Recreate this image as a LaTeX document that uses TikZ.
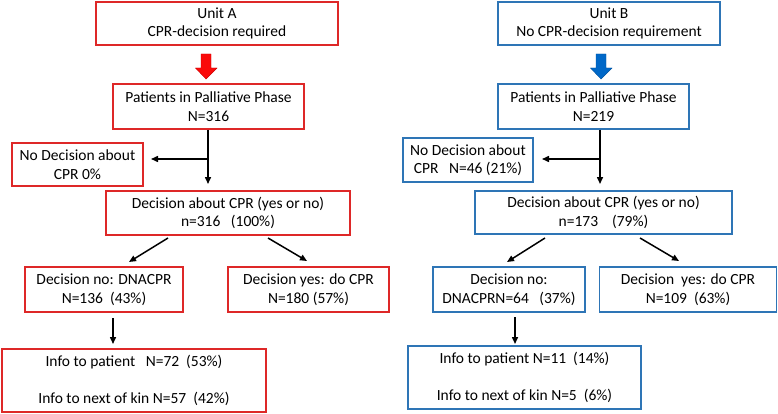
\documentclass[tikz,border=0pt]{standalone}
\usepackage{fontspec}
\setmainfont{Carlito}
\usetikzlibrary{arrows.meta}
\definecolor{redline}{RGB}{222,40,40}
\definecolor{blueline}{RGB}{46,117,182}
\definecolor{redfill}{RGB}{250,10,10}
\definecolor{bluefill}{RGB}{0,104,200}
\begin{document}
\begin{tikzpicture}[x=1pt,y=-1pt,
  box/.style={draw,line width=1.4pt,align=center,inner sep=0pt,
    font=\fontsize{15.5}{18.5}\selectfont},
  redbox/.style={box,draw=redline},
  bluebox/.style={box,draw=blueline},
  conn/.style={line width=1.5pt},
  arr/.style={line width=1.5pt,-{Triangle[length=7pt,width=6pt]}},
  bigarrow/.style={line width=0.4pt}
]
\useasboundingbox (0,0) rectangle (778,414);
\fill[white] (0,0) rectangle (778,414);
% ---------- Unit A ----------
\node[redbox,minimum width=242pt,minimum height=43pt] (unitA) at (217,23.5) {Unit A\\CPR-decision required};
\node[redbox,minimum width=191pt,minimum height=45pt] (patA) at (208.5,106.5) {Patients in Palliative Phase\\N=316};
\node[redbox,minimum width=131pt,minimum height=43pt] (nodA) at (77.5,164.5) {No Decision about\\CPR 0\%};
\node[redbox,minimum width=244pt,minimum height=44pt] (decA) at (228,213) {Decision about CPR (yes or no)\\n=316\ \ \ (100\%)};
\node[redbox,minimum width=158pt,minimum height=45pt] (noA) at (104,289.5) {Decision no: DNACPR\\N=136\ \ (43\%)};
\node[redbox,minimum width=161pt,minimum height=45pt] (yesA) at (308.5,289.5) {Decision yes: do CPR\\N=180 (57\%)};
\node[redbox,minimum width=264pt,minimum height=63pt] (infoA) at (134,380.5) {Info to patient\ \ \ N=72\ \ (53\%)\\[18pt]Info to next of kin N=57\ \ (42\%)};
% big red arrow
\fill[redfill,draw=red!80!black,bigarrow] (201,54) -- (211,54) -- (211,68) -- (217,68) -- (206,79) -- (195.5,68) -- (201,68) -- cycle;
% connectors A
\coordinate (jA) at (208,159);
\coordinate (dA) at (208,184);
\coordinate (hA) at (151,159);
\draw[conn] (patA.south -| jA) -- (jA);
\draw[arr] (jA) -- (dA);
\draw[arr] (jA) -- (hA);
\coordinate (dl1A) at (168,238);
\coordinate (dl2A) at (129,262);
\coordinate (dr1A) at (268,238);
\coordinate (dr2A) at (307,261);
\draw[arr] (dl1A) -- (dl2A);
\draw[arr] (dr1A) -- (dr2A);
\coordinate (v1A) at (113,318);
\coordinate (v2A) at (113,344);
\draw[arr] (v1A) -- (v2A);
% ---------- Unit B ----------
\node[bluebox,minimum width=222pt,minimum height=43pt] (unitB) at (609,23.5) {Unit B\\No CPR-decision requirement};
\node[bluebox,minimum width=191pt,minimum height=45pt] (patB) at (593.5,106.5) {Patients in Palliative Phase\\N=219};
\node[bluebox,minimum width=130pt,minimum height=44pt] (nodB) at (468,160) {No Decision about\\CPR\ \ \ N=46 (21\%)};
\node[bluebox,minimum width=257pt,minimum height=43pt] (decB) at (603.5,212.5) {Decision about CPR (yes or no)\\n=173\ \ \ \ (79\%)};
\node[bluebox,minimum width=152pt,minimum height=45pt] (noB) at (509,289.5) {Decision no:\\DNACPRN=64\ \ \ (37\%)};
\node[bluebox,minimum width=177pt,minimum height=45pt] (yesB) at (688,289.5) {Decision\ \ yes: do CPR\\N=109\ \ (63\%)};
\node[bluebox,minimum width=233pt,minimum height=63pt] (infoB) at (524.5,377.5) {Info to patient N=11\ \ (14\%)\\[18pt]Info to next of kin N=5\ \ (6\%)};
% big blue arrow
\fill[bluefill,draw=bluefill!80!black,bigarrow] (596,54) -- (606,54) -- (606,68) -- (612,68) -- (601,79) -- (590.5,68) -- (596,68) -- cycle;
% connectors B
\coordinate (jB) at (600,159);
\coordinate (dB) at (600,184);
\coordinate (hB) at (542,159);
\draw[conn] (patB.south -| jB) -- (jB);
\draw[arr] (jB) -- (dB);
\draw[arr] (jB) -- (hB);
\coordinate (dl1B) at (545,238);
\coordinate (dl2B) at (507,262);
\coordinate (dr1B) at (640,238);
\coordinate (dr2B) at (679,261);
\draw[arr] (dl1B) -- (dl2B);
\draw[arr] (dr1B) -- (dr2B);
\coordinate (v1B) at (515,317);
\coordinate (v2B) at (515,344);
\draw[arr] (v1B) -- (v2B);
\end{tikzpicture}
\end{document}
